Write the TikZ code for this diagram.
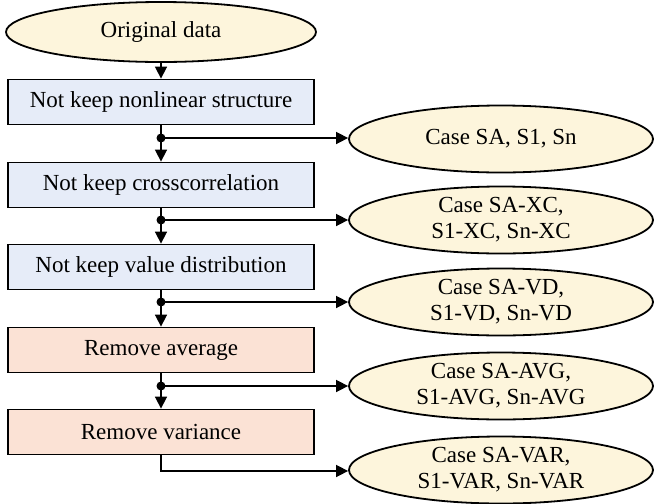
\documentclass[tikz,border=0pt]{standalone}
\usepackage{fontspec}
\setmainfont{Liberation Serif}
\usetikzlibrary{shapes.geometric,arrows.meta,calc}
\definecolor{ovalfill}{HTML}{FDF5DC}
\definecolor{bluefill}{HTML}{E6ECF8}
\definecolor{rosefill}{HTML}{FBE2D5}
\tikzset{
  oval/.style={ellipse, draw, line width=1.8pt, fill=ovalfill, minimum width=310pt, minimum height=60pt, inner xsep=0pt, inner ysep=-14pt, align=center, font=\fontsize{23}{26}\selectfont},
  caseoval/.style={oval, minimum width=304pt, minimum height=67pt},
  stepbox/.style={rectangle, draw, line width=1.8pt, minimum width=306pt, minimum height=45pt, inner sep=0pt, font=\fontsize{23}{26}\selectfont},
  flow/.style={line width=1.6pt, -{Triangle[length=12pt,width=12pt]}},
  plain/.style={line width=1.6pt},
  junction/.style={circle, fill, inner sep=0pt, minimum size=9pt},
}
\begin{document}
\begin{tikzpicture}[x=1pt,y=-1pt]
\useasboundingbox (0,0) rectangle (657,504);
% main column
\node[oval] (orig) at (161,32) {Original data};
\node[stepbox, fill=bluefill] (b1) at (161,102) {Not keep nonlinear structure};
\node[stepbox, fill=bluefill] (b2) at (161,185) {Not keep crosscorrelation};
\node[stepbox, fill=bluefill] (b3) at (161,267) {Not keep value distribution};
\node[stepbox, fill=rosefill] (b4) at (161,350) {Remove average};
\node[stepbox, fill=rosefill] (b5) at (161,432) {Remove variance};
% branch points
\node[junction] (j1) at (161,138) {};
\node[junction] (j2) at (161,220) {};
\node[junction] (j3) at (161,302) {};
\node[junction] (j4) at (161,386) {};
\coordinate (j5) at (161,471);
% outcome cases
\node[caseoval] (c1) at (501,139) {Case SA, S1, Sn};
\node[caseoval] (c2) at (501,220) {Case SA-XC,\\S1-XC, Sn-XC};
\node[caseoval] (c3) at (501,302) {Case SA-VD,\\S1-VD, Sn-VD};
\node[caseoval] (c4) at (501,386) {Case SA-AVG,\\S1-AVG, Sn-AVG};
\node[caseoval] (c5) at (501,470) {Case SA-VAR,\\S1-VAR, Sn-VAR};
% connectors
\draw[flow] (orig) -- (b1);
\draw[plain] (b1) -- (j1.center);
\draw[flow] (j1.center) -- (b2);
\draw[plain] (b2) -- (j2.center);
\draw[flow] (j2.center) -- (b3);
\draw[plain] (b3) -- (j3.center);
\draw[flow] (j3.center) -- (b4);
\draw[plain] (b4) -- (j4.center);
\draw[flow] (j4.center) -- (b5);
\draw[flow] (j1.center) -- (c1.west |- j1.center);
\draw[flow] (j2.center) -- (c2.west |- j2.center);
\draw[flow] (j3.center) -- (c3.west |- j3.center);
\draw[flow] (j4.center) -- (c4.west |- j4.center);
\draw[flow] (b5.south) -- (j5) -- (c5.west |- j5);
\end{tikzpicture}
\end{document}
